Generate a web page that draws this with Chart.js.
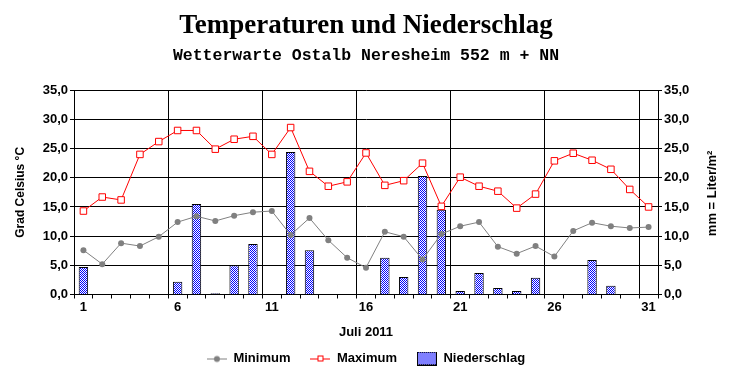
<!DOCTYPE html>
<html><head><meta charset="utf-8">
<script src="https://cdn.jsdelivr.net/npm/chart.js@4"></script>
<style>html,body{margin:0;padding:0;background:#fff}#wrap{width:732px;height:380px}</style>
</head><body><div id="wrap"><canvas id="c" width="732" height="380"></canvas></div>
<script>
const days = ['1','2','3','4','5','6','7','8','9','10','11','12','13','14','15','16','17','18','19','20','21','22','23','24','25','26','27','28','29','30','31'];
const minimum = [7.6,5.2,8.8,8.3,9.9,12.4,13.4,12.6,13.5,14.1,14.3,10.2,13.1,9.3,6.3,4.6,10.75,9.9,6.0,10.35,11.7,12.4,8.2,7.0,8.3,6.5,10.9,12.3,11.7,11.4,11.55];
const maximum = [14.3,16.7,16.2,24.0,26.2,28.1,28.1,24.9,26.6,27.1,24.0,28.6,21.1,18.55,19.3,24.25,18.7,19.5,22.5,15.1,20.1,18.55,17.7,14.8,17.2,22.9,24.2,23.0,21.45,18.0,15.0];
const niederschlag = [4.7,0,0,0,0,2.2,15.5,0.2,5.0,8.65,0,24.4,7.6,0,0,0,6.3,3.0,20.3,14.5,0.6,3.7,1.1,0.6,2.85,0,0,5.9,1.5,0,0];

const FONT = "'Liberation Sans', Arial, sans-serif";
Chart.defaults.font.family = FONT;
Chart.defaults.color = '#000';

// blue dotted fill pattern
const pc = document.createElement('canvas'); pc.width = 2; pc.height = 2;
const pctx = pc.getContext('2d');
pctx.fillStyle = '#ffffff'; pctx.fillRect(0,0,2,2);
pctx.fillStyle = '#0000ff'; pctx.fillRect(0,0,1,1); pctx.fillRect(1,1,1,1);
const pattern = pctx.createPattern(pc, 'repeat');

function legendImg(kind){
  const c = document.createElement('canvas');
  c.width = 20; c.height = 14;
  const x = c.getContext('2d');
  if (kind === 'min') {
    x.strokeStyle = '#808080'; x.lineWidth = 1;
    x.beginPath(); x.moveTo(0,7.5); x.lineTo(20,7.5); x.stroke();
    x.fillStyle = '#808080'; x.beginPath(); x.arc(10,7.5,3,0,Math.PI*2); x.fill();
  } else if (kind === 'max') {
    x.strokeStyle = '#ff0000'; x.lineWidth = 1;
    x.beginPath(); x.moveTo(0,7.5); x.lineTo(20,7.5); x.stroke();
    x.fillStyle = '#fff'; x.fillRect(7,4,6,6);
    x.strokeRect(7.5,4.5,5,5);
  } else {
    x.fillStyle = x.createPattern(pc,'repeat'); x.fillRect(0,0,20,14);
    x.strokeStyle = '#000'; x.lineWidth = 1; x.strokeRect(0.5,0.5,19,13);
  }
  return c;
}
const legendImgs = [legendImg('min'), legendImg('max'), legendImg('bar')];

const rightTitle = {
  id: 'rightTitle',
  afterDraw(chart){
    const ctx = chart.ctx;
    const a = chart.chartArea;
    ctx.save();
    ctx.translate(712, (a.top + a.bottom)/2 + 1);
    ctx.rotate(-Math.PI/2);
    ctx.font = 'bold 13px ' + FONT;
    ctx.fillStyle = '#000';
    ctx.textAlign = 'center';
    ctx.textBaseline = 'middle';
    ctx.fillText('mm = Liter/m\u00B2', 0, 0);
    ctx.restore();
  }
};

const fmt = v => Number(v).toFixed(1).replace('.', ',');

new Chart(document.getElementById('c'), {
  data: {
    labels: days,
    datasets: [
      { type:'line', label:'Minimum', data: minimum, yAxisID:'y', order:2,
        borderColor:'#808080', borderWidth:1, pointStyle:'circle', pointRadius:3,
        pointBackgroundColor:'#808080', pointBorderColor:'#808080', pointBorderWidth:0, tension:0 },
      { type:'line', label:'Maximum', data: maximum, yAxisID:'y', order:1,
        borderColor:'#ff0000', borderWidth:1, pointStyle:'rect', pointRadius:4.6,
        pointBackgroundColor:'#ffffff', pointBorderColor:'#ff0000', pointBorderWidth:1, tension:0 },
      { type:'bar', label:'Niederschlag', data: niederschlag, yAxisID:'y2', order:3,
        backgroundColor: pattern, borderColor:'#000', borderWidth:1,
        barPercentage:0.5, categoryPercentage:1.0 }
    ]
  },
  options: {
    responsive:false, animation:false, devicePixelRatio:1,
    layout:{ padding:{ left:0, right:0, top:0, bottom:5 } },
    plugins:{
      title:{ display:true, text:'Temperaturen und Niederschlag', color:'#000',
        font:{ family:"'Liberation Serif', 'Times New Roman', serif", size:27, weight:'bold', lineHeight:1.2 },
        padding:{ top:10, bottom:0 } },
      subtitle:{ display:true, text:'Wetterwarte Ostalb Neresheim 552 m + NN', color:'#000',
        font:{ family:"'Liberation Mono', 'Courier New', monospace", size:16.5, weight:'bold', lineHeight:1.2 },
        padding:{ top:4, bottom:24 } },
      legend:{ position:'bottom',
        labels:{ usePointStyle:true, pointStyleWidth:20, boxHeight:13, padding:20, color:'#000',
          font:{ size:13, weight:'bold' },
          generateLabels(chart){
            return chart.data.datasets.map((d,i)=>({ text:d.label, pointStyle:legendImgs[i], datasetIndex:i,
              fillStyle:'#fff', strokeStyle:'#000', lineWidth:0, hidden:false, fontColor:'#000' }));
          } } },
      tooltip:{ enabled:false }
    },
    scales:{
      x:{ type:'category', offset:true,
        grid:{ offset:true, drawOnChartArea:true, drawTicks:true, tickLength:4, lineWidth:1,
          color: c => (c.index % 5 === 0 && c.index > 0 && c.index < 31) ? '#000' : 'rgba(0,0,0,0)',
          tickColor:'#000' },
        border:{ display:true, color:'#000', width:1 },
        ticks:{ autoSkip:false, maxRotation:0, minRotation:0, padding:1, color:'#000',
          font:{ size:13, weight:'bold' },
          callback:(v,i)=> (i % 5 === 0) ? days[i] : '' },
        title:{ display:true, text:'Juli 2011', color:'#000', font:{ size:13, weight:'bold' }, padding:{ top:0, bottom:-8.3 } },
        afterFit: s => { s.height = 37.5; }
      },
      y:{ position:'left', min:0, max:35,
        ticks:{ stepSize:5, padding:2, color:'#000', font:{ size:13, weight:'bold' }, callback: v => fmt(v) },
        grid:{ color:'#000', lineWidth:1, drawTicks:true, tickLength:4, tickColor:'#000' },
        border:{ display:true, color:'#000', width:1 },
        title:{ display:true, text:'Grad Celsius \u00B0C', color:'#000', font:{ size:12, weight:'bold' }, padding:{ top:13, bottom:0 } },
        afterFit: s => { s.width = 74; }
      },
      y2:{ position:'right', min:0, max:35,
        ticks:{ stepSize:5, padding:2, color:'#000', font:{ size:13, weight:'bold' }, callback: v => fmt(v) },
        grid:{ drawOnChartArea:false, drawTicks:true, tickLength:4, tickColor:'#000', color:'#000' },
        border:{ display:true, color:'#000', width:1 },
        afterFit: s => { s.width = 74; }
      }
    }
  },
  plugins:[rightTitle]
});
</script></body></html>
